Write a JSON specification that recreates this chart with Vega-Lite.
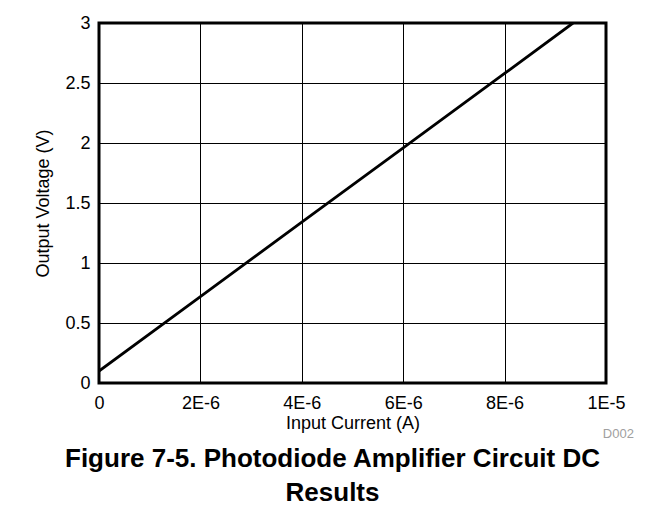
{
  "$schema": "https://vega.github.io/schema/vega-lite/v6.json",
  "width": 507,
  "height": 360,
  "autosize": {"type": "none"},
  "padding": {"left": 99, "top": 23, "right": 58, "bottom": 134},
  "background": "white",
  "config": {
    "font": "Liberation Sans",
    "view": {"stroke": "black", "strokeWidth": 3}
  },
  "title": {
    "text": ["Figure 7-5. Photodiode Amplifier Circuit DC", "Results"],
    "orient": "bottom",
    "anchor": "middle",
    "frame": "group",
    "dx": -20,
    "offset": 5,
    "font": "Liberation Sans",
    "fontSize": 26,
    "fontWeight": "bold",
    "lineHeight": 34,
    "color": "black"
  },
  "data": {
    "values": [
      {"current": 0, "voltage": 0.1},
      {"current": 2e-6, "voltage": 0.72},
      {"current": 4e-6, "voltage": 1.34},
      {"current": 6e-6, "voltage": 1.96},
      {"current": 8e-6, "voltage": 2.58},
      {"current": 9.35e-6, "voltage": 3.0}
    ]
  },
  "layer": [
    {
      "mark": {"type": "line", "color": "black", "strokeWidth": 2.8, "clip": true},
      "encoding": {
        "x": {
          "field": "current",
          "type": "quantitative",
          "scale": {"domain": [0, 1e-5], "nice": false, "zero": false},
          "axis": {
            "title": "Input Current (A)",
            "values": [0, 2e-6, 4e-6, 6e-6, 8e-6, 1e-5],
            "labelExpr": "datum.value == 0 ? '0' : replace(format(datum.value, '.0e'), 'e', 'E')",
            "labelFontSize": 18,
            "labelColor": "black",
            "labelPadding": 11,
            "titleFontSize": 18,
            "titleFontWeight": "normal",
            "titleColor": "black",
            "titlePadding": 2,
            "ticks": false,
            "domain": false,
            "grid": true,
            "gridColor": "black",
            "gridOpacity": 1,
            "gridWidth": 1,
            "labelFlush": false
          }
        },
        "y": {
          "field": "voltage",
          "type": "quantitative",
          "scale": {"domain": [0, 3], "nice": false, "zero": false},
          "axis": {
            "title": "Output Voltage (V)",
            "values": [0, 0.5, 1, 1.5, 2, 2.5, 3],
            "format": "~g",
            "labelFontSize": 18,
            "labelColor": "black",
            "labelPadding": 9,
            "titleFontSize": 18,
            "titleFontWeight": "normal",
            "titleColor": "black",
            "titlePadding": 12,
            "ticks": false,
            "domain": false,
            "grid": true,
            "gridColor": "black",
            "gridOpacity": 1,
            "gridWidth": 1,
            "labelFlush": false
          }
        }
      }
    },
    {
      "data": {"values": [{"code": "D002", "current": 1.055e-5, "voltage": -0.425}]},
      "mark": {"type": "text", "align": "right", "baseline": "middle", "fontSize": 13, "color": "#a0a0a0", "clip": false},
      "encoding": {
        "x": {"field": "current", "type": "quantitative"},
        "y": {"field": "voltage", "type": "quantitative"},
        "text": {"field": "code"}
      }
    }
  ]
}
